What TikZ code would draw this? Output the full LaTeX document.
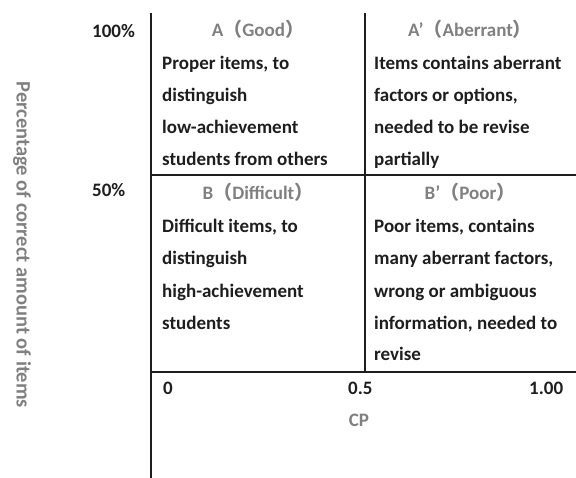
\documentclass[tikz,border=0pt]{standalone}
\usepackage{fontspec}
\setmainfont{Carlito}
\newfontfamily\cjk{Noto Sans CJK SC}
\definecolor{ink}{HTML}{1E1E1E}
\definecolor{hdr}{HTML}{808080}
\newcommand{\lp}{{\cjk （}}
\newcommand{\rp}{{\cjk ）}}
\begin{document}
\begin{tikzpicture}[x=1pt,y=-1pt,
  txt/.style={font=\fontsize{19}{20}\selectfont\bfseries, text=ink, inner sep=0pt, anchor=base west},
  head/.style={font=\fontsize{19}{20}\selectfont\bfseries, text=hdr, inner sep=0pt, anchor=base},
  axis/.style={line width=1.8pt, draw=ink}]
\useasboundingbox (0,0) rectangle (576,478);
\coordinate (vt) at (151,13);
\coordinate (vb) at (151,478);
\coordinate (mt) at (365,13);
\coordinate (mb) at (365,372);
\coordinate (hl) at (151,175);
\coordinate (hr) at (576,175);
\coordinate (bl) at (151,372);
\coordinate (br) at (576,372);
\draw[axis] (vt) -- (vb);
\draw[axis] (mt) -- (mb);
\draw[axis] (hl) -- (hr);
\draw[axis] (bl) -- (br);
% y ticks
\node[txt] (p100) at (92,38) {100\%};
\node[txt] (p50) at (92,197) {50\%};
% headers
\node[head] (hA) at (258,37) {A\lp Good\rp};
\node[head] (hAp) at (470,37) {A’\lp Aberrant\rp};
\node[head] (hB) at (258,200) {B\lp Difficult\rp};
\node[head] (hBp) at (470,200) {B’\lp Poor\rp};
% A body
\node[txt] (a1) at (162,70) {Proper items, to};
\node[txt] (a2) at (162,102) {distinguish};
\node[txt] (a3) at (162,134) {low-achievement};
\node[txt] (a4) at (162,166) {students from others};
% A' body
\node[txt] (ap1) at (374,70) {Items contains aberrant};
\node[txt] (ap2) at (374,102) {factors or options,};
\node[txt] (ap3) at (374,134) {needed to be revise};
\node[txt] (ap4) at (374,166) {partially};
% B body
\node[txt] (b1) at (162,233) {Difficult items, to};
\node[txt] (b2) at (162,265) {distinguish};
\node[txt] (b3) at (162,298) {high-achievement};
\node[txt] (b4) at (162,330) {students};
% B' body
\node[txt] (bp1) at (374,233) {Poor items, contains};
\node[txt] (bp2) at (374,265) {many aberrant factors,};
\node[txt] (bp3) at (374,298) {wrong or ambiguous};
\node[txt] (bp4) at (374,330) {information, needed to};
\node[txt] (bp5) at (374,361) {revise};
% x ticks
\node[txt] (x0) at (163,395) {0};
\node[txt] (x5) at (348,395) {0.5};
\node[txt] (x1) at (529,395) {1.00};
\node[head] (cp) at (359,427) {CP};
% y label
\node[font=\fontsize{20.5}{22}\selectfont\bfseries, text=hdr, rotate=-90, inner sep=0pt] (ylab) at (22,245) {Percentage of correct amount of items};
\end{tikzpicture}
\end{document}
